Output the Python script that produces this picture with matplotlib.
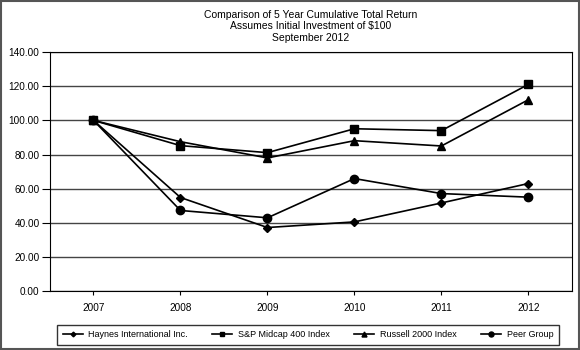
import matplotlib.pyplot as plt
from matplotlib.patches import Rectangle

plt.rcParams["font.family"] = ["Liberation Sans", "DejaVu Sans"]

years = ["2007", "2008", "2009", "2010", "2011", "2012"]
haynes = [100.0, 54.8, 37.2, 40.5, 51.6, 63.0]
sp_midcap = [100.0, 85.2, 81.1, 95.1, 94.0, 121.1]
russell = [100.0, 87.5, 78.0, 88.1, 85.0, 112.1]
peer_group = [100.0, 47.2, 42.9, 65.9, 57.1, 55.0]

series = [
    ("Haynes International Inc.", haynes, "D", 4),
    ("S&P Midcap 400 Index", sp_midcap, "s", 6),
    ("Russell 2000 Index", russell, "^", 6),
    ("Peer Group", peer_group, "o", 6),
]


def main() -> None:
    fig = plt.figure(figsize=(5.8, 3.5), dpi=100)
    ax = fig.add_axes([0.0862, 0.1686, 0.8998, 0.6824])

    x = list(range(len(years)))
    for label, values, marker, size in series:
        ax.plot(x, values, color="black", linewidth=1.2, marker=marker,
                markersize=size, label=label, zorder=3)

    ax.set_xlim(-0.5, len(years) - 0.5)
    ax.set_ylim(0, 140)
    ax.set_yticks(range(0, 141, 20))
    ax.set_yticklabels([f"{v:.2f}" for v in range(0, 141, 20)])
    ax.set_xticks(x)
    ax.set_xticklabels(years)
    ax.tick_params(axis="y", labelsize=7.2, length=6, width=0.8, pad=1.5)
    ax.tick_params(axis="x", labelsize=7.2, length=3, width=0.8, pad=6)
    ax.yaxis.grid(True, color="#444444", linewidth=1.0)
    ax.set_axisbelow(True)
    for spine in ax.spines.values():
        spine.set_linewidth(0.8)

    # Title is centred over the plot area, not the whole figure.
    fig.text(0.5362, 1 - 9.5 / 350,
             "Comparison of 5 Year Cumulative Total Return\n"
             "Assumes Initial Investment of $100\nSeptember 2012",
             ha="center", va="top", fontsize=7.45, linespacing=1.2)

    leg = fig.legend(loc="center", bbox_to_anchor=(0.531, 0.044),
                     ncol=4, fontsize=6.5, frameon=True, fancybox=False,
                     handlelength=2.2, columnspacing=2.75, borderpad=0.6,
                     handletextpad=0.6, markerscale=0.6)
    leg.get_frame().set_edgecolor("black")
    leg.get_frame().set_linewidth(1.0)

    fig.patches.append(Rectangle((0.002, 0.003), 0.996, 0.994,
                                 transform=fig.transFigure, fill=False,
                                 edgecolor="#555555", linewidth=1.5))

    fig.savefig("out.png", dpi=100)
    plt.close(fig)


if __name__ == "__main__":
    main()
